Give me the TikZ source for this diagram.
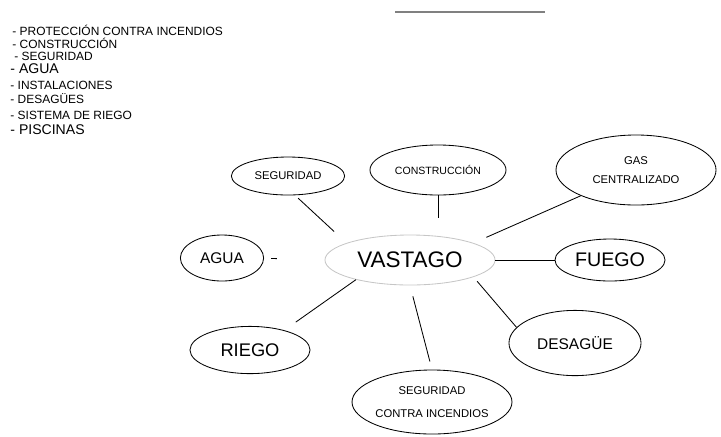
\documentclass[tikz,border=0pt]{standalone}
\usepackage{fontspec}
\setmainfont{Liberation Sans}
\usetikzlibrary{shapes.geometric}

\begin{document}
\begin{tikzpicture}[x=0.025cm, y=-0.025cm,
			line width=0.6pt,
			tema/.style={draw, ellipse, inner sep=0pt, align=center},
			rama/.style={shorten <=3pt, shorten >=3pt},
			lista/.style={anchor=west, inner sep=0pt, font=\fontsize{8.5}{10}\selectfont}]

			\useasboundingbox (0,0) rectangle (721,436);

			% lista
			\node[lista] (l1) at (12,30) {- PROTECCIÓN CONTRA INCENDIOS};
			\node[lista] (l2) at (12,43) {- CONSTRUCCIÓN};
			\node[lista] (l3) at (14,56) {- SEGURIDAD};
			\node[lista, font=\fontsize{10}{12}\selectfont] (l4) at (10,69) {- AGUA};
			\node[lista] (l5) at (10,85) {- INSTALACIONES};
			\node[lista] (l6) at (10,99) {- DESAGÜES};
			\node[lista] (l7) at (10,115) {- SISTEMA DE RIEGO};
			\node[lista, font=\fontsize{10}{12}\selectfont] (l8) at (10,130) {- PISCINAS};

			\coordinate (r1) at (395,12);
			\coordinate (r2) at (545,12);
			\draw[gray, line width=1.2pt] (r1) -- (r2);

			% mapa
			\node[tema, draw=gray!45, minimum width=4.25cm, minimum height=1.25cm, font=\fontsize{16}{18}\selectfont] (vastago) at (410,260) {VASTAGO};
			\node[tema, minimum width=2.83cm, minimum height=0.95cm, font=\fontsize{8}{9}\selectfont] (seg) at (288,176) {SEGURIDAD};
			\node[tema, minimum width=3.4cm, minimum height=1.25cm, font=\fontsize{7.5}{9}\selectfont] (cons) at (438,170) {CONSTRUCCIÓN};
			\node[tema, minimum width=4.0cm, minimum height=1.75cm, font=\fontsize{8}{14}\selectfont] (gas) at (636,170) {GAS\\CENTRALIZADO};
			\node[tema, minimum width=2.08cm, minimum height=1.15cm, font=\fontsize{11}{13}\selectfont] (agua) at (222,258) {AGUA};
			\node[tema, minimum width=2.75cm, minimum height=1.05cm, font=\fontsize{14}{16}\selectfont] (fuego) at (610,260) {FUEGO};
			\node[tema, minimum width=3.0cm, minimum height=1.18cm, font=\fontsize{13}{15}\selectfont] (riego) at (250,350) {RIEGO};
			\node[tema, minimum width=3.3cm, minimum height=1.63cm, font=\fontsize{11}{13}\selectfont] (des) at (575,343) {DESAGÜE};
			\node[tema, minimum width=3.9cm, minimum height=1.6cm, font=\fontsize{8}{16}\selectfont] (sci) at (432,402) {SEGURIDAD\\CONTRA INCENDIOS};

			\draw[rama, shorten >=12pt] (seg.290) -- (vastago.165);
			\draw[rama, shorten <=0pt, shorten >=12pt] (cons.south) -- (cons.south |- vastago.north);
			\draw[rama, shorten <=0pt, shorten >=10pt] (gas.205) -- (vastago.15);
			\draw[shorten <=5pt, shorten >=34pt] (agua) -- (vastago);
			\draw[shorten <=0pt] (fuego) -- (vastago);
			\draw[rama, shorten <=10pt, shorten >=0pt] (riego.30) -- (vastago.200);
			\draw[rama, shorten <=8pt, shorten >=6pt] (vastago.south) -- (sci.north);
			\draw[rama, shorten <=4pt, shorten >=0pt] (vastago.-15) -- (des.165);
		\end{tikzpicture}
\end{document}
